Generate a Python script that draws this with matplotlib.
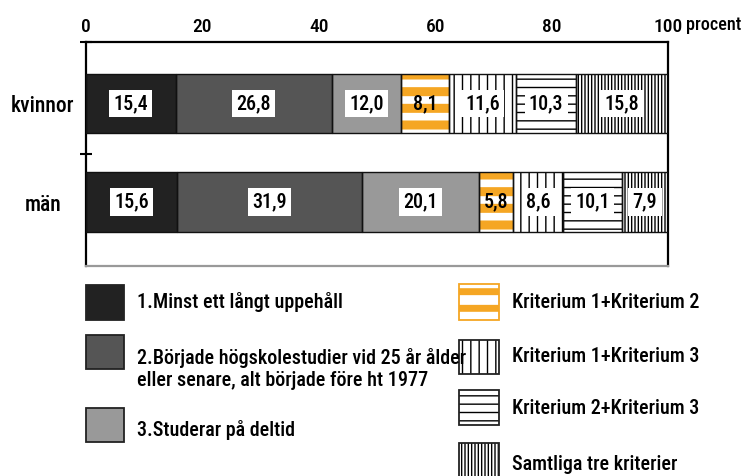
import matplotlib
matplotlib.use('Agg')
import matplotlib.pyplot as plt
from matplotlib.patches import Rectangle
from matplotlib import font_manager

names = {f.name for f in font_manager.fontManager.ttflist}
FONT = 'DejaVu Sans'
for cand in ['Liberation Sans Narrow', 'Roboto Condensed', 'Open Sans Condensed', 'Liberation Sans']:
    if cand in names:
        FONT = cand
        break
plt.rcParams['font.family'] = [FONT, 'DejaVu Sans']
plt.rcParams['font.weight'] = 'medium'

# ---------------- data ----------------
groups = ['kvinnor', 'män']
categories = ['1.Minst ett långt uppehåll',
              '2.Började högskolestudier vid 25 år ålder\neller senare, alt började före ht 1977',
              '3.Studerar på deltid',
              'Kriterium 1+Kriterium 2',
              'Kriterium 1+Kriterium 3',
              'Kriterium 2+Kriterium 3',
              'Samtliga tre kriterier']
kvinnor = [15.4, 26.8, 12.0, 8.1, 11.6, 10.3, 15.8]
man = [15.6, 31.9, 20.1, 5.8, 8.6, 10.1, 7.9]
xticks = [0, 20, 40, 60, 80, 100]
unit_label = 'procent'

# ---------------- styles ----------------
ORANGE = '#F5A623'
styles = [
    dict(fc='#222222', hatch=None, hc=None, hlw=None),
    dict(fc='#555555', hatch=None, hc=None, hlw=None),
    dict(fc='#999999', hatch=None, hc=None, hlw=None),
    dict(fc='white', hatch='-', hc=ORANGE, hlw=6.5),
    dict(fc='white', hatch='||', hc='black', hlw=1.0),
    dict(fc='white', hatch='--', hc='black', hlw=1.0),
    dict(fc='white', hatch='|||||', hc='black', hlw=1.0),
]

W, H = 742, 476
fig = plt.figure(figsize=(W / 100, H / 100), dpi=100)


def fx(x):
    return x / W


def fy(y):
    return 1 - y / H


ax = fig.add_axes([fx(86), fy(266), (668 - 86) / W, (266 - 42) / H])

ypos = [0.55, 1.43]
bar_h = 0.53
data = [kvinnor, man]


def style_patch(p, st):
    if st['hatch']:
        p.set_hatch(st['hatch'])
        p.set_edgecolor(st['hc'])
        if hasattr(p, 'set_hatch_linewidth'):
            p.set_hatch_linewidth(st['hlw'])


for gi, vals in enumerate(data):
    left = 0
    for ci, v in enumerate(vals):
        st = styles[ci]
        with plt.rc_context({'hatch.linewidth': st['hlw'] or 1.0}):
            bars = ax.barh(ypos[gi], v, left=left, height=bar_h, color=st['fc'],
                           edgecolor=st['hc'] if st['hatch'] else 'none', linewidth=0,
                           hatch=st['hatch'], zorder=2)
        for p in bars:
            style_patch(p, st)
        ax.barh(ypos[gi], v, left=left, height=bar_h, fill=False,
                edgecolor='#111111', linewidth=1.0, zorder=3)
        txt = f'{v:.1f}'.replace('.', ',')
        kw = {}
        if ci != 3:
            kw['bbox'] = dict(facecolor='white', edgecolor='none', pad=3.0)
        ax.text(left + v / 2, ypos[gi], txt, ha='center', va='center',
                fontsize=14.5, color='black', zorder=4, **kw)
        left += v

ax.set_xlim(0, 100)
ax.set_ylim(2, 0)
ax.xaxis.tick_top()
ax.set_xticks(xticks)
ax.set_xticklabels([str(t) for t in xticks], fontsize=14)
ax.tick_params(axis='x', length=0, pad=4.5)
ax.set_yticks(ypos)
ax.set_yticklabels(groups, fontsize=15.5, ha='center')
ax.tick_params(axis='y', which='major', length=0, pad=31)
ax.set_yticks([0, 1], minor=True)
ax.tick_params(axis='y', which='minor', length=8, width=1.5, direction='inout')

for s in ['left', 'top', 'right']:
    ax.spines[s].set_linewidth(1.6)
    ax.spines[s].set_color('black')
ax.spines['bottom'].set_linewidth(1.6)
ax.spines['bottom'].set_color('#999999')

fig.text(fx(686), fy(25), unit_label, fontsize=13, ha='left', va='center')

# ---------------- legend ----------------
legend_boxes = [
    (86, 285, 124, 320, 137, 302),
    (86, 335, 124, 369, 137, 369),
    (86, 408, 124, 442, 137, 430),
    (459, 284, 499, 320, 512, 303),
    (459, 340, 499, 374, 512, 356),
    (459, 390, 499, 425, 512, 409),
    (459, 443, 499, 480, 512, 465),
]
for ci, (x0, y0, x1, y1, tx, ty) in enumerate(legend_boxes):
    st = styles[ci]
    hlw = st['hlw'] or 1.0
    if ci == 3:
        hlw = 5.0
    with plt.rc_context({'hatch.linewidth': hlw}):
        r = Rectangle((fx(x0), fy(y1)), (x1 - x0) / W, (y1 - y0) / H,
                      transform=fig.transFigure, facecolor=st['fc'],
                      edgecolor=st['hc'] if st['hatch'] else 'none', linewidth=0,
                      hatch=st['hatch'])
        if st['hatch'] and hasattr(r, 'set_hatch_linewidth'):
            r.set_hatch_linewidth(hlw)
        fig.add_artist(r)
    fig.add_artist(Rectangle((fx(x0), fy(y1)), (x1 - x0) / W, (y1 - y0) / H,
                             transform=fig.transFigure, fill=False,
                             edgecolor=ORANGE if ci == 3 else '#222222', linewidth=1.3))
    fig.text(fx(tx), fy(ty), categories[ci], fontsize=14.5, ha='left', va='center',
             linespacing=1.25)

fig.savefig('out.png', dpi=100)
